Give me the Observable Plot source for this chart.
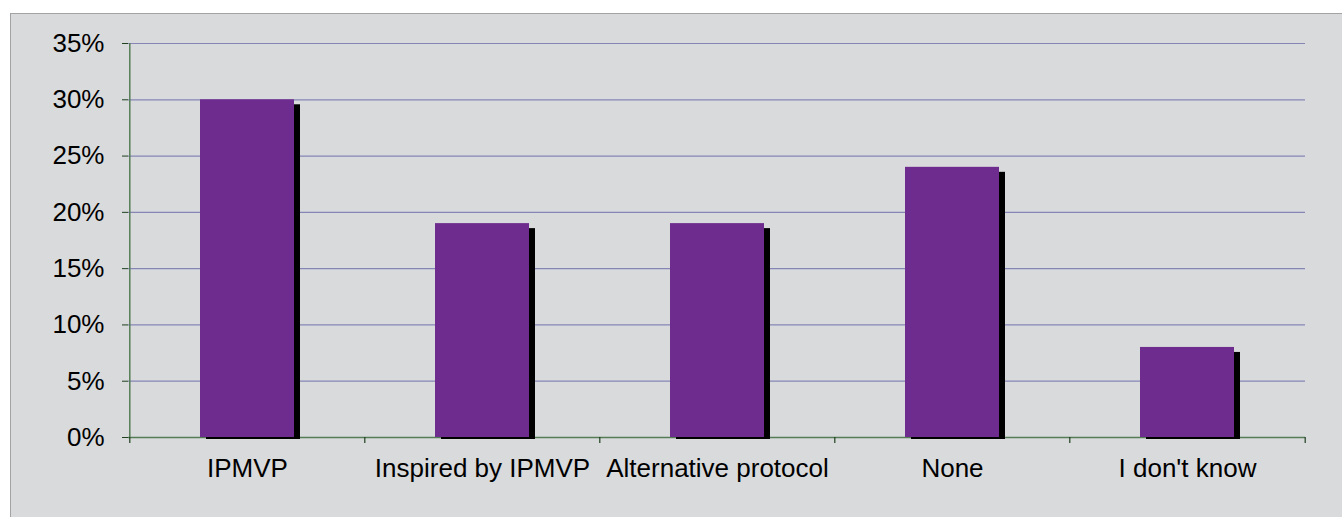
<!DOCTYPE html>
<html><head>
<meta charset="utf-8">
<script src="https://cdn.jsdelivr.net/npm/d3@7"></script>
<script src="https://cdn.jsdelivr.net/npm/@observablehq/plot@0.6"></script>
<style>
body{margin:0;background:#fff;}
#wrap{position:relative;width:1342px;height:517px;overflow:hidden;}
#box{position:absolute;left:10px;top:13px;width:1340px;height:510px;background:#d9dadc;border:1px solid #a3a3a3;}
#chart{position:absolute;left:0;top:0;}
</style></head>
<body><div id="wrap"><div id="box"></div><div id="chart"></div></div>
<script>
const categories = ["IPMVP", "Inspired by IPMVP", "Alternative protocol", "None", "I don't know"];
const values = [0.30, 0.19, 0.19, 0.24, 0.08];
const yTicks = [0, 0.05, 0.10, 0.15, 0.20, 0.25, 0.30, 0.35];

const data = categories.map((c, i) => ({category: c, value: values[i]}));

const W = 1342, H = 517, mL = 128, mR = 37, mT = 43, mB = 80;
const step = (W - mL - mR) / categories.length;

const chart = Plot.plot({
  width: W, height: H,
  marginLeft: mL, marginRight: mR, marginTop: mT, marginBottom: mB,
  style: {background: "transparent", fontFamily: "Arial, 'Liberation Sans', sans-serif", fontSize: "26px", color: "#000"},
  x: {domain: categories, paddingInner: 0.6, paddingOuter: 0.3},
  y: {domain: [0, 0.35]},
  marks: [
    Plot.ruleY(yTicks.filter(d => d > 0), {stroke: "#8686b6", strokeWidth: 1.2}),
    Plot.ruleY([0], {stroke: "#557d55", strokeWidth: 1.5}),
    Plot.ruleX([categories[0]], {x: d => d, dx: -step / 2, y1: 0, y2: 0.35, stroke: "#557d55", strokeWidth: 1.5}),
    Plot.barY(data, {x: "category", y: "value", fill: "#000", dx: 6, dy: 5, insetBottom: 3}),
    Plot.barY(data, {x: "category", y: "value", fill: "#6f2c8f"}),
    Plot.ruleX(categories, {x: d => d, dx: -step / 2, y1: 0, y2: 0, insetBottom: -6, stroke: "#1f3f1f", strokeWidth: 1.2}),
    Plot.ruleX([categories[categories.length - 1]], {x: d => d, dx: step / 2, y1: 0, y2: 0, insetBottom: -6, stroke: "#1f3f1f", strokeWidth: 1.2}),
    Plot.axisY({ticks: yTicks, tickFormat: d3.format(".0%"), tickSize: 6, tickPadding: 18, stroke: "#1f3f1f", label: null}),
    Plot.axisX({tickSize: 0, tickPadding: 21, label: null})
  ]
});
document.getElementById("chart").appendChild(chart);
</script>
</body></html>
